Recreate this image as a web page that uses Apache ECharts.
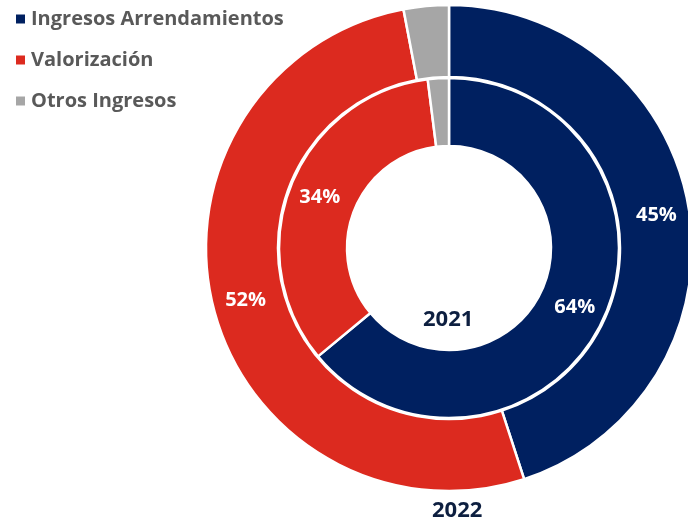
<!DOCTYPE html>
<html>
<head>
<meta charset="utf-8">
<script src="https://cdn.jsdelivr.net/npm/echarts@6/dist/echarts.min.js"></script>
<style>
  html, body { margin: 0; padding: 0; background: #fff; }
  #chart { width: 688px; height: 528px; }
</style>
</head>
<body>
<div id="chart"></div>
<script>
const categories = ['Ingresos Arrendamientos', 'Valorización', 'Otros Ingresos']
const colors = ['#002060', '#DC2A1F', '#A6A6A6']
const values2021 = [64, 34, 2]
const values2022 = [45, 52, 3]
const yearLabels = ['2021', '2022']

const toData = (vals) => vals.map((v, i) => ({ name: categories[i], value: v }))

const ringLabel = {
  show: true,
  position: 'inside',
  color: '#fff',
  fontSize: 20,
  fontWeight: 'bold',
  fontFamily: 'Open Sans',
  formatter: (p) => (p.value >= 5 ? p.value + '%' : ''),
}

const yearStyle = { color: '#0D1F40', fontSize: 22, fontWeight: 'bold', fontFamily: 'Open Sans' }

var myChart = echarts.init(document.getElementById('chart'))
const option = {
  color: colors,
  animation: false,
  title: [
    { text: yearLabels[0], left: 423, top: 309, textStyle: yearStyle, padding: 0 },
    { text: yearLabels[1], left: 432, top: 500, textStyle: yearStyle, padding: 0 },
  ],
  legend: {
    data: categories,
    orient: 'vertical',
    left: 9,
    top: 4,
    itemWidth: 11,
    itemHeight: 11,
    itemGap: 21,
    icon: 'rect',
    textStyle: { color: '#595959', fontSize: 20, fontWeight: 'bold', fontFamily: 'Open Sans' },
  },
  series: [
    {
      name: '2022',
      type: 'pie',
      center: [449, 248],
      radius: [171, 243],
      startAngle: 90,
      clockwise: true,
      data: toData(values2022),
      itemStyle: { borderColor: '#fff', borderWidth: 2.5 },
      label: ringLabel,
      labelLine: { show: false },
      emphasis: { disabled: true },
    },
    {
      name: '2021',
      type: 'pie',
      center: [449, 248],
      radius: [102, 170],
      startAngle: 90,
      clockwise: true,
      data: toData(values2021),
      itemStyle: { borderColor: '#fff', borderWidth: 2.5 },
      label: ringLabel,
      labelLine: { show: false },
      emphasis: { disabled: true },
    },
  ],
}
myChart.setOption(option)
</script>
</body>
</html>
